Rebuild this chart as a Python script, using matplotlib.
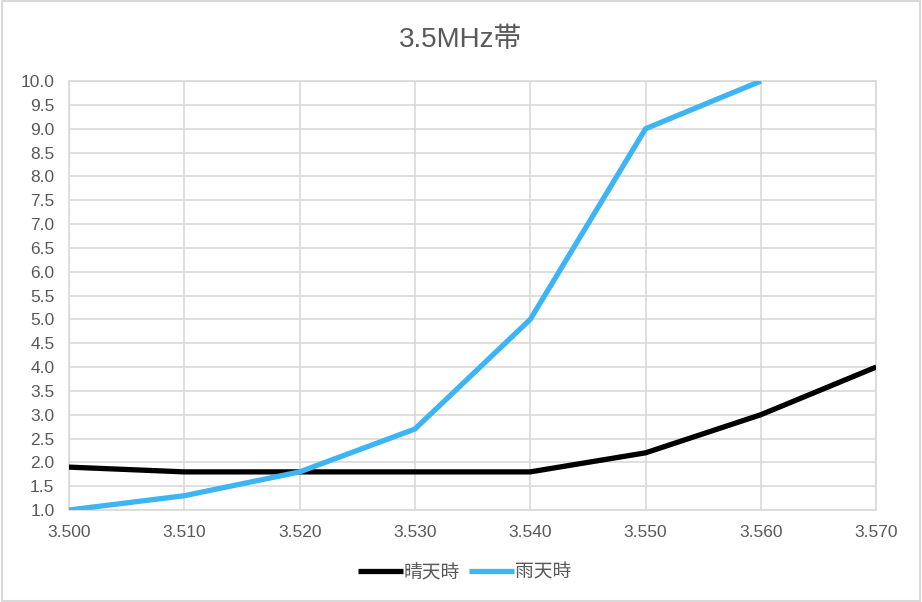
#!/usr/bin/env python3
import matplotlib
matplotlib.use("Agg")
import matplotlib.pyplot as plt
from matplotlib.patches import Rectangle

plt.rcParams["font.family"] = ["Liberation Sans", "Noto Sans CJK JP", "DejaVu Sans"]

freq = [3.500, 3.510, 3.520, 3.530, 3.540, 3.550, 3.560, 3.570]
sunny = [1.9, 1.8, 1.8, 1.8, 1.8, 2.2, 3.0, 4.0]
rainy_freq = [3.500, 3.510, 3.520, 3.530, 3.540, 3.550, 3.560]
rainy = [1.0, 1.3, 1.8, 2.7, 5.0, 9.0, 10.0]

TEXT = "#595959"
GRID = "#D9D9D9"

fig = plt.figure(figsize=(9.22, 6.02), dpi=100)
ax = fig.add_axes([0.0748, 0.1528, 0.8756, 0.7126])

ax.plot(freq, sunny, color="black", lw=3.8, label="晴天時", solid_capstyle="butt", zorder=3)
ax.plot(rainy_freq, rainy, color="#3DB5F5", lw=3.8, label="雨天時", solid_capstyle="butt", zorder=3)

ax.set_xlim(3.500, 3.570)
ax.set_ylim(1.0, 10.0)
ax.set_xticks([3.500 + 0.01 * i for i in range(8)])
ax.set_xticklabels([f"{v:.3f}" for v in ax.get_xticks()])
ax.set_yticks([1.0 + 0.5 * i for i in range(19)])
ax.set_yticklabels([f"{v:.1f}" for v in ax.get_yticks()])
ax.tick_params(length=0, labelsize=12.5, colors=TEXT)
ax.tick_params(axis="y", pad=10.5)
ax.tick_params(axis="x", pad=11)
ax.grid(True, color=GRID, lw=1.2)
for s in ax.spines.values():
    s.set_color(GRID)
    s.set_linewidth(1.2)

fig.text(0.5, 1 - 40 / 602, "3.5MHz帯", fontsize=20, color=TEXT, ha="center", va="center")

fig.legend(loc="center", bbox_to_anchor=(0.504, 0.048), ncol=2, frameon=False,
           fontsize=13.5, labelcolor=TEXT, handlelength=2.4, handletextpad=0.05,
           columnspacing=0.5)

fig.patches.append(Rectangle((0.002, 0.002), 0.996, 0.996, transform=fig.transFigure,
                             fill=False, edgecolor=GRID, lw=1.5))

fig.savefig("out.png", dpi=100)
